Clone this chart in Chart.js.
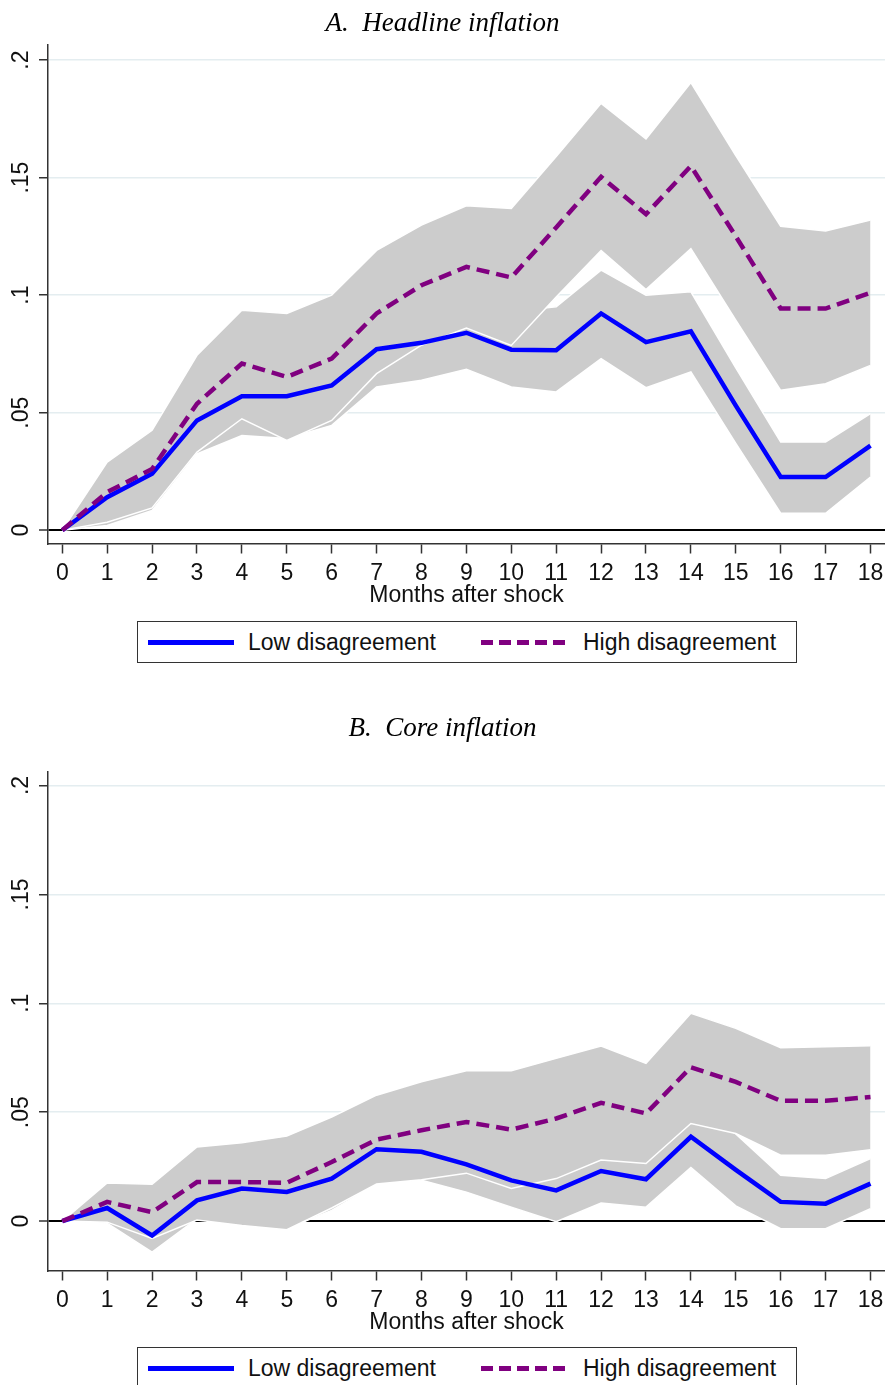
<!DOCTYPE html>
<html>
<head>
<meta charset="utf-8">
<script src="https://cdn.jsdelivr.net/npm/chart.js@4.4.1/dist/chart.umd.min.js"></script>
<style>
  html, body { margin: 0; padding: 0; background: #fff; }
  body { width: 885px; height: 1385px; overflow: hidden; position: relative; font-family: 'Liberation Sans', Arial, sans-serif; }
  .panel { position: absolute; left: 0; width: 885px; }
  .legend { position: absolute; left: 137px; width: 660px; height: 42px; box-sizing: border-box;
            border: 1.5px solid #333; background: #fff; font-size: 23px; color: #111; }
  .legend .item { position: absolute; top: 0; height: 100%; display: flex; align-items: center; }
  .legend .sample { position: absolute; top: 50%; margin-top: -2.5px; height: 5px; }
  .legend .solid { background: #0000ff; }
  .legend .dash { background: repeating-linear-gradient(to right, #800080 0 12px, transparent 12px 18px); }
</style>
</head>
<body>
<div class="panel" style="top:0;height:705px;"><canvas id="chartA" width="885" height="705"></canvas></div>
<div class="panel" style="top:705px;height:680px;"><canvas id="chartB" width="885" height="680"></canvas></div>

<div class="legend" style="top:621px;">
  <div class="sample solid" style="left:10px;width:86px;"></div>
  <div class="item" style="left:110px;">Low disagreement</div>
  <div class="sample dash" style="left:343px;width:89px;"></div>
  <div class="item" style="left:445px;">High disagreement</div>
</div>
<div class="legend" style="top:1347px;">
  <div class="sample solid" style="left:10px;width:86px;"></div>
  <div class="item" style="left:110px;">Low disagreement</div>
  <div class="sample dash" style="left:343px;width:89px;"></div>
  <div class="item" style="left:445px;">High disagreement</div>
</div>

<script>
// ---------- data ----------
const months = [0,1,2,3,4,5,6,7,8,9,10,11,12,13,14,15,16,17,18];
const xTickLabels = ['0','1','2','3','4','5','6','7','8','9','10','11','12','13','14','15','16','17','18'];
const yTickValues = [0, 0.05, 0.1, 0.15, 0.2];
const yTickLabels = ['0', '.05', '.1', '.15', '.2'];
const seriesNames = ['Low disagreement', 'High disagreement'];

// Panel A: Headline inflation
const headlineLow      = [0, 0.014, 0.024, 0.0467, 0.057, 0.057, 0.0616, 0.077, 0.0797, 0.084, 0.0768, 0.0766, 0.0922, 0.080, 0.0846, 0.053, 0.0226, 0.0226, 0.036];
const headlineLowLo    = [0, 0.002, 0.0084, 0.0325, 0.0403, 0.039, 0.0446, 0.0609, 0.0638, 0.0685, 0.0609, 0.0588, 0.073, 0.0606, 0.0673, 0.0369, 0.0072, 0.0072, 0.0226];
const headlineLowHi    = [0, 0.026, 0.040, 0.061, 0.074, 0.075, 0.079, 0.093, 0.096, 0.0995, 0.093, 0.095, 0.1106, 0.100, 0.1014, 0.069, 0.0375, 0.0375, 0.0496];
const headlineHigh     = [0, 0.0162, 0.026, 0.0538, 0.0709, 0.0652, 0.073, 0.0922, 0.1042, 0.112, 0.1075, 0.1288, 0.1503, 0.1344, 0.1549, 0.125, 0.0943, 0.0943, 0.101];
const headlineHighLo   = [0, 0.0034, 0.0095, 0.0332, 0.0474, 0.0382, 0.0467, 0.0666, 0.0787, 0.086, 0.0786, 0.0992, 0.119, 0.1024, 0.1198, 0.0893, 0.0595, 0.0623, 0.0701];
const headlineHighHi   = [0, 0.029, 0.0425, 0.0744, 0.0936, 0.0922, 0.100, 0.119, 0.1298, 0.138, 0.1369, 0.159, 0.1816, 0.1664, 0.1904, 0.1593, 0.1293, 0.1273, 0.1319];

// Panel B: Core inflation
const coreLow      = [0, 0.006, -0.0066, 0.0095, 0.0149, 0.0134, 0.0195, 0.033, 0.0318, 0.026, 0.0187, 0.0141, 0.023, 0.0192, 0.0387, 0.0235, 0.0088, 0.008, 0.0172];
const coreLowLo    = [0, -0.001, -0.0143, 0.001, -0.0015, -0.0035, 0.0049, 0.0169, 0.0187, 0.0133, 0.0064, -0.0003, 0.0083, 0.0064, 0.0246, 0.007, -0.0035, -0.0035, 0.0057];
const coreLowHi    = [0, 0.013, 0.001, 0.018, 0.031, 0.030, 0.034, 0.049, 0.045, 0.0387, 0.031, 0.0285, 0.0377, 0.032, 0.0528, 0.040, 0.021, 0.0195, 0.0287];
const coreHigh     = [0, 0.0088, 0.0041, 0.0179, 0.0179, 0.0176, 0.0271, 0.0374, 0.0417, 0.0455, 0.042, 0.0471, 0.0543, 0.0494, 0.0706, 0.0639, 0.0552, 0.0552, 0.057];
const coreHighLo   = [0, -0.0005, -0.008, 0.0005, -0.002, -0.004, 0.006, 0.017, 0.019, 0.022, 0.015, 0.0195, 0.028, 0.0264, 0.0448, 0.0402, 0.0302, 0.0302, 0.0328];
const coreHighHi   = [0, 0.0175, 0.0169, 0.034, 0.036, 0.039, 0.0478, 0.0578, 0.064, 0.069, 0.069, 0.0747, 0.0804, 0.0724, 0.0954, 0.0885, 0.0796, 0.080, 0.0805];

// ---------- chart builder ----------
const pts = (arr) => months.map((m, i) => ({ x: m, y: arr[i] }));
const BAND = '#cccccc';
const SANS = "'Liberation Sans', Arial, sans-serif";
const SERIF = "'Liberation Serif', 'Times New Roman', serif";

function makeChart(id, title, low, lowLo, lowHi, high, highLo, highHi, yMin, yMax, titlePad, plotBottom, canvasH) {
  const bandStyle = { borderColor: '#ffffff', borderWidth: 1.5, pointRadius: 0, tension: 0 };
  return new Chart(document.getElementById(id), {
    type: 'line',
    data: {
      datasets: [
        Object.assign({ label: 'lowHi', data: pts(lowHi), fill: '+1', backgroundColor: BAND, order: 6 }, bandStyle),
        Object.assign({ label: 'lowLo', data: pts(lowLo), fill: false, order: 5 }, bandStyle),
        Object.assign({ label: 'highHi', data: pts(highHi), fill: '+1', backgroundColor: BAND, order: 4 }, bandStyle),
        Object.assign({ label: 'highLo', data: pts(highLo), fill: false, order: 3 }, bandStyle),
        { label: seriesNames[0], data: pts(low), borderColor: '#0000ff', borderWidth: 4.5, pointRadius: 0, fill: false, tension: 0, order: 2 },
        { label: seriesNames[1], data: pts(high), borderColor: '#800080', borderWidth: 4.5, borderDash: [13, 7], pointRadius: 0, fill: false, tension: 0, order: 1 }
      ]
    },
    options: {
      responsive: false,
      animation: false,
      events: [],
      layout: { padding: { left: 0, right: 0, top: 0, bottom: canvasH - plotBottom - 66 } },
      plugins: {
        legend: { display: false },
        tooltip: { enabled: false },
        title: {
          display: true, text: title, color: '#000',
          font: { family: SERIF, size: 27, style: 'italic', weight: 'normal', lineHeight: 1.2 },
          padding: titlePad
        }
      },
      scales: {
        x: {
          type: 'linear', min: -0.318, max: 18.323,
          afterBuildTicks: (s) => { s.ticks = months.map(v => ({ value: v })); },
          afterFit: (s) => { s.height = 66; s.paddingLeft = 0; s.paddingRight = 0; },
          ticks: {
            autoSkip: false, maxRotation: 0, minRotation: 0, padding: 6, color: '#111',
            font: { family: SANS, size: 23, lineHeight: 1.2 },
            callback: (v) => xTickLabels[months.indexOf(v)]
          },
          grid: { drawOnChartArea: false, drawTicks: true, tickLength: 10, tickColor: '#333', tickWidth: 1.5 },
          border: { display: true, color: '#333', width: 1.5 },
          title: { display: true, text: 'Months after shock', color: '#111',
                   font: { family: SANS, size: 23, lineHeight: 1.2 }, padding: { top: 0, bottom: 0 } }
        },
        y: {
          type: 'linear', min: yMin, max: yMax,
          afterBuildTicks: (s) => { s.ticks = yTickValues.map(v => ({ value: v })); },
          afterFit: (s) => { s.width = 48; s.paddingTop = 0; s.paddingBottom = 0; },
          ticks: {
            minRotation: 90, maxRotation: 90, crossAlign: 'center', padding: 1.5, color: '#111',
            font: { family: SANS, size: 23, lineHeight: 1.2 },
            callback: (v) => yTickLabels[yTickValues.indexOf(v)]
          },
          grid: {
            color: (c) => (c.tick && c.tick.value === 0) ? '#000000' : '#e4edf0',
            lineWidth: (c) => (c.tick && c.tick.value === 0) ? 2 : 1.5,
            tickColor: '#333', tickLength: 9, tickWidth: 1.5
          },
          border: { display: true, color: '#333', width: 1.5 }
        }
      }
    }
  });
}

makeChart('chartA', 'A.  Headline inflation',
  headlineLow, headlineLowLo, headlineLowHi, headlineHigh, headlineHighLo, headlineHighHi,
  -0.00566, 0.2064, { top: 7.8, bottom: 4.8 }, 543.5, 705);

makeChart('chartB', 'B.  Core inflation',
  coreLow, coreLowLo, coreLowHi, coreHigh, coreHighLo, coreHighHi,
  -0.0227, 0.2062, { top: 7.8, bottom: 26.8 }, 565.5, 680);
</script>
</body>
</html>
